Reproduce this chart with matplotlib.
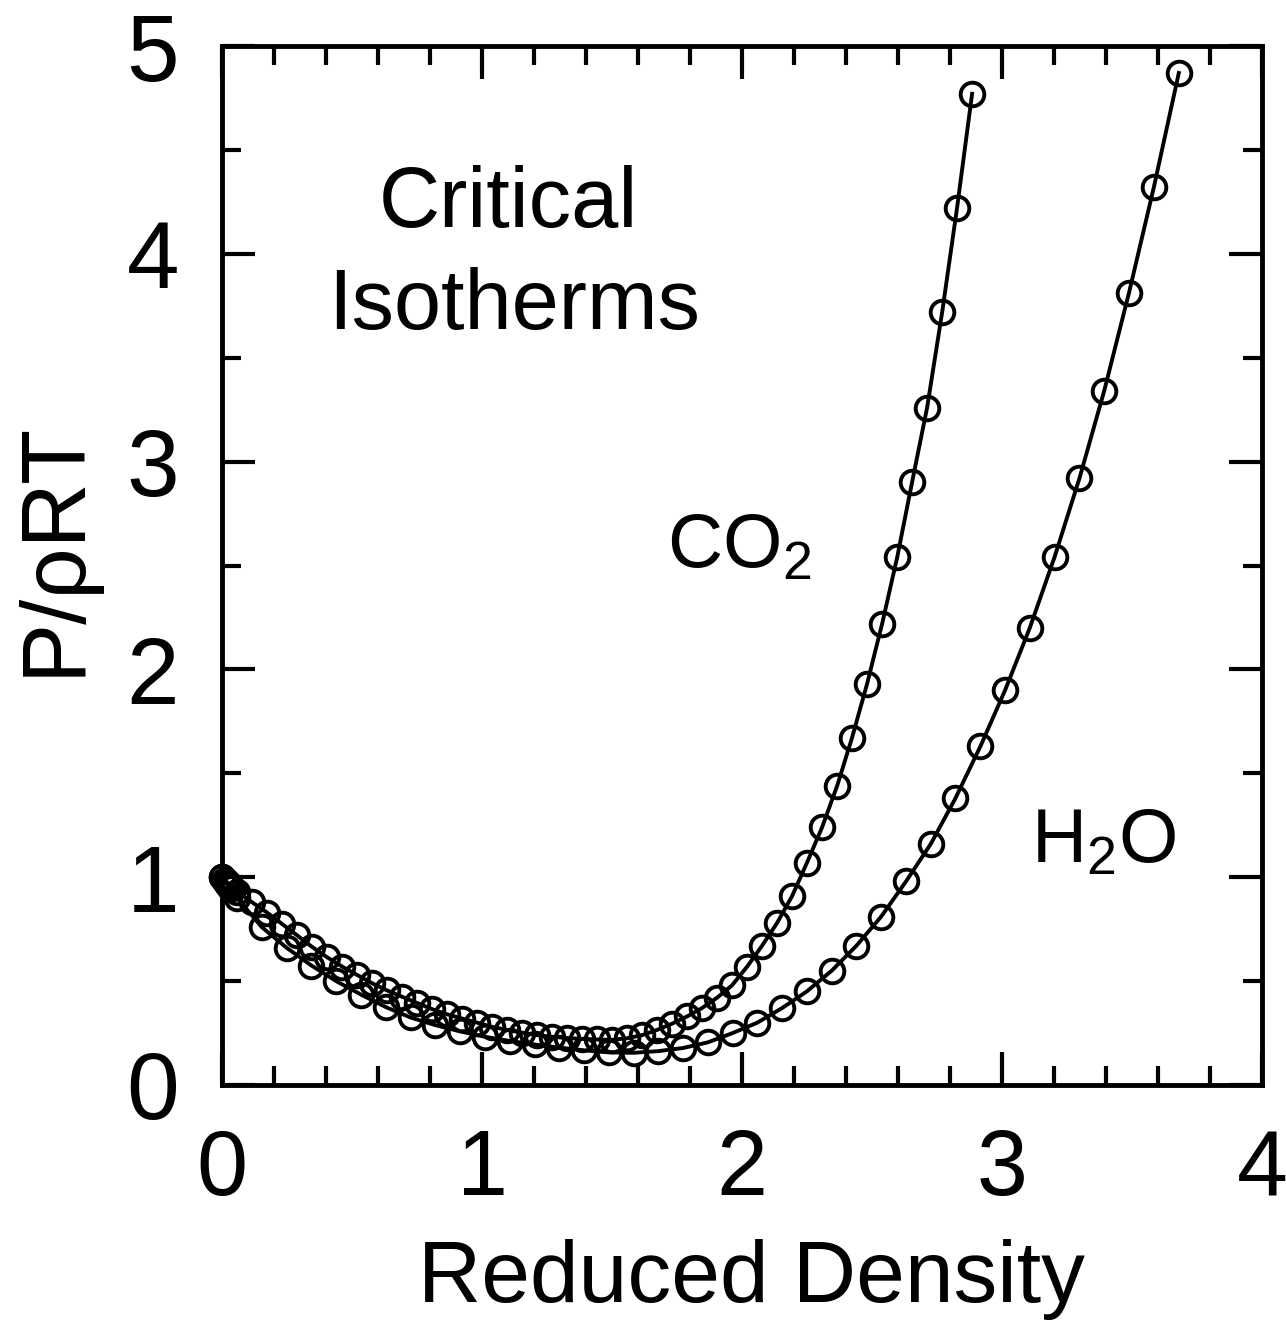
import matplotlib
matplotlib.use('Agg')
import matplotlib.pyplot as plt
from matplotlib.ticker import MultipleLocator

plt.rcParams['font.family'] = ['Liberation Sans', 'DejaVu Sans']
plt.rcParams['mathtext.fontset'] = 'custom'
plt.rcParams['mathtext.rm'] = 'Liberation Sans'

# CO2 critical isotherm (reduced density, P/rhoRT)
co2_density = [0.0, 0.01, 0.02, 0.03, 0.04, 0.058, 0.115, 0.173, 0.231, 0.289,
               0.346, 0.404, 0.462, 0.519, 0.577, 0.635, 0.692, 0.750, 0.808, 0.866,
               0.923, 0.981, 1.039, 1.097, 1.154, 1.212, 1.270, 1.327, 1.385, 1.443,
               1.500, 1.558, 1.616, 1.673, 1.731, 1.789, 1.846, 1.904, 1.962, 2.020,
               2.077, 2.135, 2.193, 2.250, 2.308, 2.366, 2.423, 2.481, 2.539, 2.597,
               2.654, 2.712, 2.770, 2.827, 2.885]
co2_z = [1.0, 0.987, 0.975, 0.962, 0.95, 0.93, 0.88, 0.83, 0.775, 0.72,
         0.665, 0.615, 0.57, 0.53, 0.49, 0.455, 0.425, 0.395, 0.365, 0.34,
         0.32, 0.30, 0.28, 0.265, 0.252, 0.24, 0.232, 0.226, 0.222, 0.219,
         0.217, 0.225, 0.24, 0.265, 0.295, 0.33, 0.37, 0.42, 0.48, 0.57,
         0.67, 0.78, 0.91, 1.07, 1.24, 1.44, 1.67, 1.93, 2.22, 2.54,
         2.90, 3.26, 3.72, 4.22, 4.77]

# H2O critical isotherm
h2o_density = [0.0, 0.01, 0.02, 0.03, 0.058, 0.153, 0.249, 0.344, 0.439, 0.535,
               0.630, 0.725, 0.821, 0.916, 1.011, 1.106, 1.202, 1.297, 1.392, 1.487,
               1.583, 1.678, 1.773, 1.868, 1.964, 2.059, 2.154, 2.249, 2.345, 2.440,
               2.535, 2.631, 2.726, 2.821, 2.917, 3.012, 3.107, 3.202, 3.298, 3.393,
               3.488, 3.584, 3.680]
h2o_z = [1.0, 0.982, 0.965, 0.947, 0.90, 0.76, 0.66, 0.575, 0.50, 0.435,
         0.375, 0.325, 0.288, 0.258, 0.232, 0.212, 0.195, 0.18, 0.167, 0.157,
         0.155, 0.163, 0.178, 0.205, 0.25, 0.30, 0.37, 0.45, 0.55, 0.67,
         0.81, 0.98, 1.16, 1.38, 1.63, 1.90, 2.20, 2.54, 2.92, 3.34,
         3.81, 4.32, 4.87]

W, H = 1286, 1331
fig = plt.figure(figsize=(W / 100, H / 100), dpi=100)
ax = fig.add_axes([222 / W, 1 - 1085 / H, (1262 - 222) / W, (1085 - 46) / H])

for dens, z in [(co2_density, co2_z), (h2o_density, h2o_z)]:
    ax.plot(dens, z, '-', color='black', lw=2.8, marker='o', ms=17,
            mfc='none', mec='black', mew=2.8, clip_on=False, zorder=3)

ax.set_xlim(0, 4)
ax.set_ylim(0, 5)
ax.xaxis.set_major_locator(MultipleLocator(1))
ax.xaxis.set_minor_locator(MultipleLocator(0.2))
ax.yaxis.set_major_locator(MultipleLocator(1))
ax.yaxis.set_minor_locator(MultipleLocator(0.5))
ax.tick_params(which='both', direction='in', top=True, right=True, width=3)
ax.tick_params(which='major', length=24)
ax.tick_params(which='minor', length=14)
ax.tick_params(axis='x', labelsize=66, pad=31)
ax.tick_params(axis='y', labelsize=68, pad=31)
for sp in ax.spines.values():
    sp.set_linewidth(3.5)

ax.text(1.10, 4.13, 'Critical', ha='center', va='baseline', fontsize=61)
ax.text(1.125, 3.64, 'Isotherms', ha='center', va='baseline', fontsize=61)
ax.text(1.71, 2.49, 'CO$_2$', ha='left', va='baseline', fontsize=55)
ax.text(3.11, 1.07, 'H$_2$O', ha='left', va='baseline', fontsize=55)

fig.text(751 / W, 1 - 1302 / H, 'Reduced Density', ha='center', va='baseline', fontsize=63)
fig.text(55 / W, 1 - 548 / H, 'P/ρRT', rotation=90, ha='center', va='center', fontsize=65)

fig.savefig('out.png', dpi=100)
plt.close(fig)
